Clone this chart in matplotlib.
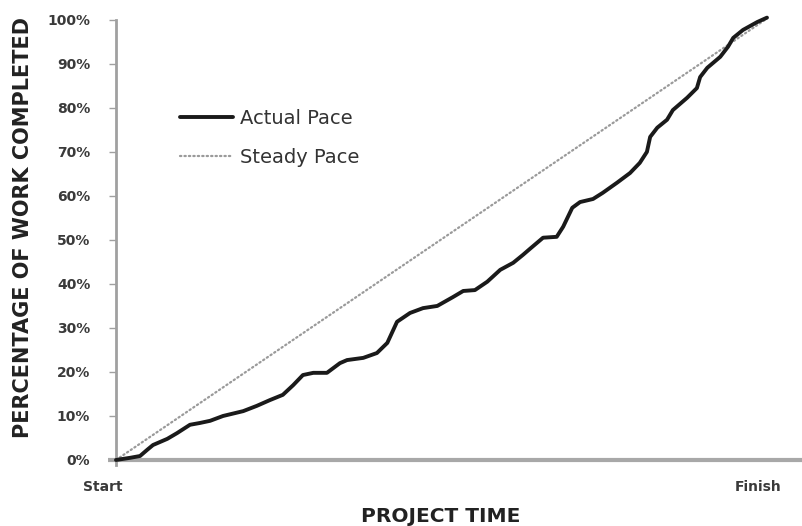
import matplotlib
matplotlib.use("Agg")
import matplotlib.pyplot as plt
from matplotlib.transforms import blended_transform_factory, ScaledTranslation

# Project time (0 = Start, 100 = Finish) and % of work completed
actual_time = [0, 2.2, 3.7, 4.8, 5.7, 7.9, 9.4, 11.4, 12.9, 14.5, 16.5, 19.6, 21.7,
               23.7, 25.7, 27.3, 28.8, 30.4, 32.5, 34.5, 35.6, 38.1, 40.2, 41.8,
               43.3, 45.3, 47.3, 49.5, 51.9, 53.5, 55.3, 57.2, 59.2, 61.2, 62.7,
               63.8, 65.8, 67.9, 68.9, 70.3, 71.5, 73.5, 75.0, 77.2, 79.2, 80.7,
               81.8, 82.3, 83.4, 84.9, 85.8, 88.0, 89.5, 90.0, 91.1, 93.1, 94.3,
               95.1, 96.6, 98.8, 100.3]
actual_pct = [0, 0.5, 0.9, 2.3, 3.4, 4.8, 6.1, 8.0, 8.4, 8.9, 10.0, 11.1, 12.3,
              13.6, 14.8, 17.0, 19.3, 19.8, 19.8, 22.0, 22.7, 23.2, 24.3, 26.6,
              31.4, 33.4, 34.5, 35.0, 37.0, 38.4, 38.6, 40.5, 43.2, 44.8, 46.6,
              48.0, 50.5, 50.7, 53.0, 57.3, 58.6, 59.3, 60.7, 63.0, 65.2, 67.5,
              70.0, 73.4, 75.5, 77.3, 79.5, 82.3, 84.5, 87.0, 89.1, 91.6, 93.9,
              95.9, 97.7, 99.5, 100.5]
steady_time = [0, 100]
steady_pct = [0, 100]

y_ticks = [0, 10, 20, 30, 40, 50, 60, 70, 80, 90, 100]
y_tick_labels = [f"{v}%" for v in y_ticks]
x_ticks = [0, 100]
x_tick_labels = ["Start", "Finish"]

W, H = 803, 526
fig = plt.figure(figsize=(W / 100, H / 100), dpi=100)
ax = fig.add_axes([116 / W, 61 / H, 687 / W, 450 / H])
ax.set_xlim(0, 105.85)
ax.set_ylim(-1.14, 101.1)

ax.plot(steady_time, steady_pct, color="#9a9a9a", lw=1.6, ls=(0, (0.6, 1.4)),
        dash_capstyle="round", label="Steady Pace", zorder=2)
ax.plot(actual_time, actual_pct, color="#1a1a1a", lw=2.8, solid_joinstyle="round",
        solid_capstyle="round", label="Actual Pace", zorder=3, clip_on=False)

for k in ("top", "right", "bottom"):
    ax.spines[k].set_visible(False)
ax.spines["left"].set_color("#a0a0a0")
ax.spines["left"].set_linewidth(2)
ax.spines["left"].set_bounds(-1.14, 100)
ax.plot([-1.25, 105.85], [0, 0], color="#a8a8a8", lw=3, zorder=1, clip_on=False,
        solid_capstyle="butt")

ax.set_yticks(y_ticks)
ax.set_yticklabels(y_tick_labels, fontsize=10, color="#3a3a3a", fontweight="bold")
ax.tick_params(axis="y", length=5, width=1, color="#a0a0a0", pad=13.5)
ax.set_xticks([])

trans = blended_transform_factory(ax.transData, ax.transAxes)
offsets = [(-13 / 100, "center"), (-7 / 100, "center")]
for xv, lab, (dx, ha) in zip(x_ticks, x_tick_labels, offsets):
    ax.text(xv, 0, lab, transform=trans + ScaledTranslation(dx, -22 / 100, fig.dpi_scale_trans),
            ha=ha, va="center", fontsize=10, fontweight="bold", color="#3a3a3a")

fig.text(23 / W, 1 - 228 / H, "PERCENTAGE OF WORK COMPLETED", rotation=90,
         fontsize=15, fontweight="bold", color="#222222", ha="center", va="center")
fig.text(441 / W, 1 - 517 / H, "PROJECT TIME", fontsize=14.5, fontweight="bold",
         color="#222222", ha="center", va="center")

handles, labels = ax.get_legend_handles_labels()
leg = ax.legend(handles[::-1], labels[::-1], loc="upper left",
                bbox_to_anchor=(180 / W, 1 - 109 / H), bbox_transform=fig.transFigure,
                frameon=False, fontsize=14, borderpad=0, borderaxespad=0,
                handlelength=2.73, handletextpad=0.36, labelspacing=1.03,
                labelcolor="#333333")

fig.savefig("out.png", dpi=100)
